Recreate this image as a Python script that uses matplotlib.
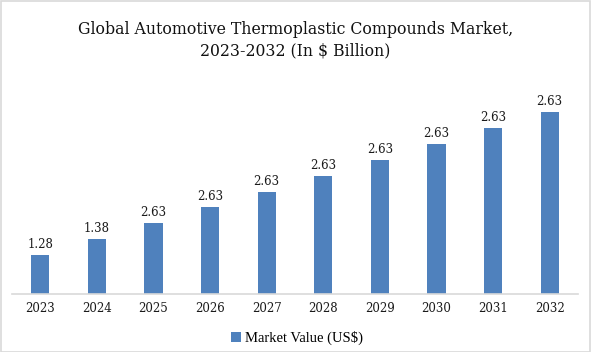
import matplotlib
matplotlib.use("Agg")
import matplotlib.pyplot as plt
from matplotlib.patches import Rectangle

years = ["2023", "2024", "2025", "2026", "2027", "2028", "2029", "2030", "2031", "2032"]
# bar heights as drawn in the picture
values = [1.28, 1.80, 2.33, 2.85, 3.35, 3.87, 4.40, 4.92, 5.45, 5.97]
# data labels as printed in the picture
value_labels = ["1.28", "1.38", "2.63", "2.63", "2.63", "2.63", "2.63", "2.63", "2.63", "2.63"]

W, H = 591, 352
fig = plt.figure(figsize=(W / 100, H / 100), dpi=100)
fig.patch.set_facecolor("white")

# axes: x 12..578 px, y baseline 294 px, top 100 px
ax = fig.add_axes([12 / W, 1 - 294 / H, 566 / W, 194 / H])
x = list(range(len(years)))
bars = ax.bar(x, values, width=0.32, color="#4f81bd", label="Market Value (US$)")
ax.set_xlim(-0.5, len(years) - 0.5)
ax.set_ylim(0, 194 * 1.28 / 39)

for xi, v, lab in zip(x, values, value_labels):
    ax.annotate(lab, (xi, v), xytext=(0, 3), textcoords="offset points",
                ha="center", va="bottom", fontsize=8.5, family="DejaVu Serif",
                color="#1a1a1a")

ax.set_xticks(x)
ax.set_xticklabels(years, fontsize=8.5, family="DejaVu Serif", color="#1a1a1a")
ax.tick_params(axis="x", length=0, pad=6)
ax.set_yticks([])
for s in ["top", "right", "left"]:
    ax.spines[s].set_visible(False)
ax.spines["bottom"].set_color("#d9d9d9")
ax.spines["bottom"].set_linewidth(1.2)

fig.text(0.5, 1 - 40 / H, "Global Automotive Thermoplastic Compounds Market,\n2023-2032 (In $ Billion)",
         ha="center", va="center", fontsize=11.3, family="DejaVu Serif",
         linespacing=1.3, color="#111111")

leg = fig.legend(handles=[bars], labels=["Market Value (US$)"], loc="center",
                 bbox_to_anchor=(297 / W, 1 - 338 / H), frameon=False,
                 prop={"family": "Liberation Serif", "size": 10.5},
                 handlelength=0.7, handleheight=0.7, handletextpad=0.3)

fig.add_artist(Rectangle((0.5 / W, 0.5 / H), 1 - 1.5 / W, 1 - 1.5 / H,
                         transform=fig.transFigure, fill=False,
                         edgecolor="#d9d9d9", linewidth=1.2))

fig.savefig("out.png", dpi=100)
